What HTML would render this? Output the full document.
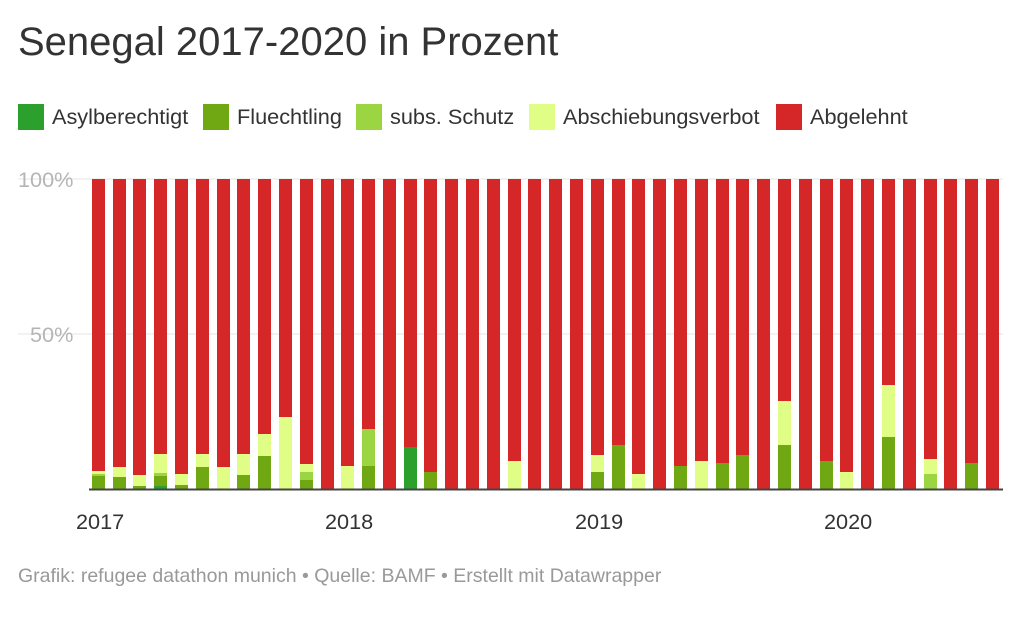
<!DOCTYPE html>
<html><head><meta charset="utf-8"><style>
body{margin:0;background:#fff;width:1023px;height:621px;overflow:hidden;font-family:"Liberation Sans",sans-serif}
</style></head><body>
<svg width="1023" height="621" xmlns="http://www.w3.org/2000/svg" font-family="Liberation Sans, sans-serif">
<text x="18" y="55" font-size="40" fill="#333">Senegal 2017-2020 in Prozent</text>
<g font-size="21.7" fill="#333">
<rect x="18" y="104" width="26" height="26" fill="#2ca02c"/><text x="52" y="124">Asylberechtigt</text>
<rect x="203" y="104" width="26" height="26" fill="#70a814"/><text x="237" y="124">Fluechtling</text>
<rect x="356" y="104" width="26" height="26" fill="#9bd541"/><text x="390" y="124">subs. Schutz</text>
<rect x="529" y="104" width="26" height="26" fill="#e0fe85"/><text x="563" y="124">Abschiebungsverbot</text>
<rect x="776" y="104" width="26" height="26" fill="#d62728"/><text x="810" y="124">Abgelehnt</text>
</g>
<line x1="18" y1="179" x2="1003" y2="179" stroke="#e6e6e6"/>
<line x1="18" y1="334" x2="1003" y2="334" stroke="#e6e6e6"/>
<g font-size="21.7" fill="#b5b5b5">
<text x="18" y="187">100%</text>
<text x="30" y="342">50%</text>
</g>
<g fill="#d62728">
<rect x="92" y="179" width="13" height="310"/><rect x="113" y="179" width="13" height="310"/><rect x="133" y="179" width="13" height="310"/><rect x="154" y="179" width="13" height="310"/><rect x="175" y="179" width="13" height="310"/><rect x="196" y="179" width="13" height="310"/><rect x="217" y="179" width="13" height="310"/><rect x="237" y="179" width="13" height="310"/><rect x="258" y="179" width="13" height="310"/><rect x="279" y="179" width="13" height="310"/><rect x="300" y="179" width="13" height="310"/><rect x="321" y="179" width="13" height="310"/><rect x="341" y="179" width="13" height="310"/><rect x="362" y="179" width="13" height="310"/><rect x="383" y="179" width="13" height="310"/><rect x="404" y="179" width="13" height="310"/><rect x="424" y="179" width="13" height="310"/><rect x="445" y="179" width="13" height="310"/><rect x="466" y="179" width="13" height="310"/><rect x="487" y="179" width="13" height="310"/><rect x="508" y="179" width="13" height="310"/><rect x="528" y="179" width="13" height="310"/><rect x="549" y="179" width="13" height="310"/><rect x="570" y="179" width="13" height="310"/><rect x="591" y="179" width="13" height="310"/><rect x="612" y="179" width="13" height="310"/><rect x="632" y="179" width="13" height="310"/><rect x="653" y="179" width="13" height="310"/><rect x="674" y="179" width="13" height="310"/><rect x="695" y="179" width="13" height="310"/><rect x="716" y="179" width="13" height="310"/><rect x="736" y="179" width="13" height="310"/><rect x="757" y="179" width="13" height="310"/><rect x="778" y="179" width="13" height="310"/><rect x="799" y="179" width="13" height="310"/><rect x="820" y="179" width="13" height="310"/><rect x="840" y="179" width="13" height="310"/><rect x="861" y="179" width="13" height="310"/><rect x="882" y="179" width="13" height="310"/><rect x="903" y="179" width="13" height="310"/><rect x="924" y="179" width="13" height="310"/><rect x="944" y="179" width="13" height="310"/><rect x="965" y="179" width="13" height="310"/><rect x="986" y="179" width="13" height="310"/>
</g>
<g fill="#e0fe85">
<rect x="92" y="471" width="13" height="18"/>
<rect x="113" y="467" width="13" height="22"/>
<rect x="133" y="475" width="13" height="14"/>
<rect x="154" y="454" width="13" height="35"/>
<rect x="175" y="474" width="13" height="15"/>
<rect x="196" y="454" width="13" height="35"/>
<rect x="217" y="467" width="13" height="22"/>
<rect x="237" y="454" width="13" height="35"/>
<rect x="258" y="434" width="13" height="55"/>
<rect x="279" y="417" width="13" height="72"/>
<rect x="300" y="464" width="13" height="25"/>
<rect x="341" y="466" width="13" height="23"/>
<rect x="508" y="461" width="13" height="28"/>
<rect x="591" y="455" width="13" height="34"/>
<rect x="632" y="474" width="13" height="15"/>
<rect x="695" y="461" width="13" height="28"/>
<rect x="778" y="401" width="13" height="88"/>
<rect x="840" y="472" width="13" height="17"/>
<rect x="882" y="385" width="13" height="104"/>
<rect x="924" y="459" width="13" height="30"/>
</g>
<g fill="#9bd541">
<rect x="92" y="474" width="13" height="15"/>
<rect x="154" y="473" width="13" height="16"/>
<rect x="300" y="472" width="13" height="17"/>
<rect x="362" y="429" width="13" height="60"/>
<rect x="924" y="474" width="13" height="15"/>
</g>
<g fill="#70a814">
<rect x="92" y="476" width="13" height="13"/>
<rect x="113" y="477" width="13" height="12"/>
<rect x="133" y="486" width="13" height="3"/>
<rect x="154" y="476" width="13" height="13"/>
<rect x="175" y="485" width="13" height="4"/>
<rect x="196" y="467" width="13" height="22"/>
<rect x="237" y="475" width="13" height="14"/>
<rect x="258" y="456" width="13" height="33"/>
<rect x="300" y="480" width="13" height="9"/>
<rect x="362" y="466" width="13" height="23"/>
<rect x="424" y="472" width="13" height="17"/>
<rect x="591" y="472" width="13" height="17"/>
<rect x="612" y="445" width="13" height="44"/>
<rect x="674" y="466" width="13" height="23"/>
<rect x="716" y="463" width="13" height="26"/>
<rect x="736" y="455" width="13" height="34"/>
<rect x="778" y="445" width="13" height="44"/>
<rect x="820" y="461" width="13" height="28"/>
<rect x="882" y="437" width="13" height="52"/>
<rect x="965" y="463" width="13" height="26"/>
</g>
<g fill="#2ca02c">
<rect x="154" y="486" width="13" height="3"/>
<rect x="404" y="447" width="13" height="42"/>
</g>
<line x1="89" y1="489.5" x2="1003" y2="489.5" stroke="#444" stroke-width="2"/>
<g font-size="21.7" fill="#333">
<text x="76" y="529">2017</text>
<text x="325" y="529">2018</text>
<text x="575" y="529">2019</text>
<text x="824" y="529">2020</text>
</g>
<text x="18" y="582" font-size="19.5" fill="#999">Grafik: refugee datathon munich • Quelle: BAMF • Erstellt mit Datawrapper</text>
</svg>
</body></html>
